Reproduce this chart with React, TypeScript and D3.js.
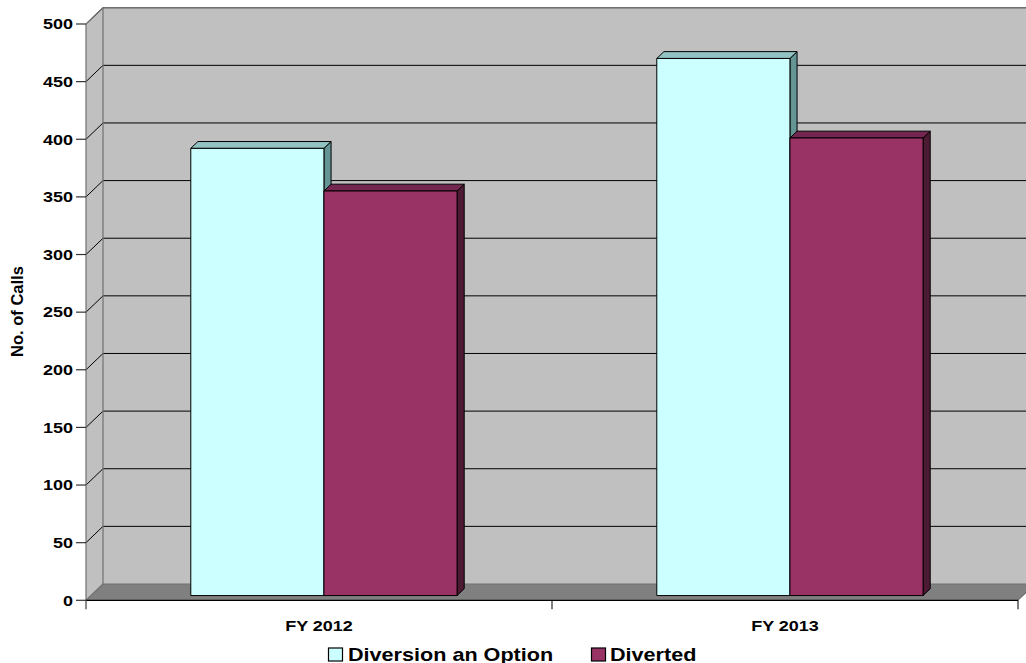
import React from "react";
import * as d3 from "d3";

// Chart data
const categories = ["FY 2012", "FY 2013"];
const seriesNames = ["Diversion an Option", "Diverted"];
const diversionOption = [388, 466];
const diverted = [351, 397];
const yTicks = [0, 50, 100, 150, 200, 250, 300, 350, 400, 450, 500];

const W = 1026;
const H = 663;

// Oblique depth of the plot box (front plane -> back wall)
const DX = 17;
const DY = -16.3;
// Depth slice occupied by the columns (fraction of the box depth)
const D0 = 0.29;
const D1 = 0.71;

const FONT = "'Liberation Sans', Arial, Helvetica, sans-serif";

const seriesStyle = [
  { front: "#CCFFFF", top: "#92C2C2", side: "#649494" },
  { front: "#993366", top: "#732650", side: "#4C1A33" },
];

function SText({ x, y, sx, size, anchor, children, rotate = 0 }: any) {
  return (
    <text
      transform={`translate(${x},${y}) rotate(${rotate}) scale(${sx},1)`}
      textAnchor={anchor}
      fontFamily={FONT}
      fontWeight="bold"
      fontSize={size}
      fill="#000"
    >
      {children}
    </text>
  );
}

export default function App() {
  const x0 = 86;
  const x1 = 1018;
  const yScale = d3.scaleLinear().domain([0, 500]).range([600.3, 24]);
  const xGroup = d3.scaleBand<string>().domain(categories).range([x0, x1]).padding(0);
  const xSeries = d3
    .scaleBand<string>()
    .domain(seriesNames)
    .range([0, xGroup.bandwidth()])
    .paddingInner(0)
    .paddingOuter(0.75);

  const values = [diversionOption, diverted];
  const yb = yScale(0);
  const yt = yScale(500);

  const pts = (arr: number[][]) => arr.map((p) => p.join(",")).join(" ");

  const bars: any[] = [];
  categories.forEach((cat, ci) => {
    seriesNames.forEach((s, si) => {
      const v = values[si][ci];
      const st = seriesStyle[si];
      const fx0 = (xGroup(cat) as number) + (xSeries(s) as number) + D0 * DX;
      const fx1 = fx0 + xSeries.bandwidth();
      const fyTop = yScale(v) + D0 * DY;
      const fyBot = yScale(0) + D0 * DY;
      const ddx = (D1 - D0) * DX;
      const ddy = (D1 - D0) * DY;
      bars.push(
        <g key={`${cat}-${s}`} stroke="#000" strokeWidth={1} strokeLinejoin="round">
          <polygon
            points={pts([
              [fx1, fyTop],
              [fx1 + ddx, fyTop + ddy],
              [fx1 + ddx, fyBot + ddy],
              [fx1, fyBot],
            ])}
            fill={st.side}
          />
          <polygon
            points={pts([
              [fx0, fyTop],
              [fx1, fyTop],
              [fx1 + ddx, fyTop + ddy],
              [fx0 + ddx, fyTop + ddy],
            ])}
            fill={st.top}
          />
          <rect x={fx0} y={fyTop} width={fx1 - fx0} height={fyBot - fyTop} fill={st.front} />
        </g>
      );
    });
  });

  const legendItems = [
    { name: seriesNames[0], sq: 328, tx: 348 },
    { name: seriesNames[1], sq: 591, tx: 610 },
  ];

  return (
    <svg
      width={W}
      height={H}
      style={{ position: "absolute", left: 0, top: 0, display: "block", background: "#fff" }}
    >
      {/* back wall */}
      <rect x={x0 + DX} y={yt + DY} width={x1 - x0 + 40} height={yb - yt} fill="#C0C0C0" />
      {/* side wall */}
      <polygon
        points={pts([
          [x0, yb],
          [x0, yt],
          [x0 + DX, yt + DY],
          [x0 + DX, yb + DY],
        ])}
        fill="#C0C0C0"
      />
      {/* floor */}
      <polygon
        points={pts([
          [x0, yb],
          [x1, yb],
          [x1 + DX, yb + DY],
          [x0 + DX, yb + DY],
        ])}
        fill="#808080"
      />
      {/* gridlines on back wall and side wall */}
      {yTicks
        .filter((t) => t > 0)
        .map((t) => (
          <g key={`g${t}`} stroke="#000" strokeWidth={1}>
            <line x1={x0 + DX} x2={W + 20} y1={yScale(t) + DY} y2={yScale(t) + DY} />
            <line x1={x0} x2={x0 + DX} y1={yScale(t)} y2={yScale(t) + DY} />
          </g>
        ))}
      {/* wall edges */}
      <g stroke="#707070" strokeWidth={1.2} fill="none">
        <line x1={x0 + DX} x2={x0 + DX} y1={yt + DY} y2={yb + DY} />
        <line x1={x0} x2={x0 + DX} y1={yt} y2={yt + DY} />
        <line x1={x0 + DX} x2={W + 20} y1={yt + DY} y2={yt + DY} />
        <line x1={x0} x2={x0 + DX} y1={yb} y2={yb + DY} />
        <line x1={x0 + DX} x2={W + 20} y1={yb + DY} y2={yb + DY} />
        <line x1={x0} x2={x0} y1={yt} y2={yb + 9} />
      </g>
      {/* front floor edge */}
      <line x1={x0} x2={x1} y1={yb} y2={yb} stroke="#000" strokeWidth={1.2} />
      <line x1={x1} x2={x1 + DX} y1={yb} y2={yb + DY} stroke="#555" strokeWidth={1} />
      {/* category ticks */}
      {[x0, ...categories.map((c) => (xGroup(c) as number) + xGroup.bandwidth())].map((x, i) => (
        <line key={`ct${i}`} x1={x} x2={x} y1={yb} y2={yb + 9} stroke={i === 0 ? "#707070" : "#000"} />
      ))}
      {/* value ticks and labels */}
      {yTicks.map((t) => (
        <g key={`yt${t}`}>
          <line x1={x0 - 10} x2={x0} y1={yScale(t)} y2={yScale(t)} stroke="#333" strokeWidth={1.2} />
          <SText x={73} y={yScale(t) + 5.3} sx={1.2} size={15} anchor="end">
            {t}
          </SText>
        </g>
      ))}
      {/* columns */}
      {bars}
      {/* category labels */}
      {categories.map((c) => (
        <SText key={c} x={(xGroup(c) as number) + xGroup.bandwidth() / 2} y={630.7} sx={1.2} size={15} anchor="middle">
          {c}
        </SText>
      ))}
      {/* axis title */}
      <SText x={22.5} y={311.5} sx={1} size={16.5} anchor="middle" rotate={-90}>
        No. of Calls
      </SText>
      {/* legend */}
      {legendItems.map((it, i) => (
        <g key={it.name}>
          <rect x={it.sq + 0.5} y={648} width={14} height={13} fill={seriesStyle[i].front} stroke="#000" strokeWidth={1.2} />
          <SText x={it.tx} y={660.5} sx={1.2} size={18} anchor="start">
            {it.name}
          </SText>
        </g>
      ))}
    </svg>
  );
}
